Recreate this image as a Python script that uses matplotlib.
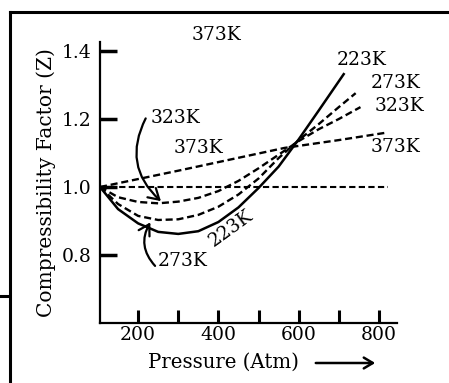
import matplotlib
matplotlib.use("Agg")
import matplotlib.pyplot as plt
from matplotlib.lines import Line2D
from matplotlib.patches import FancyArrowPatch

plt.rcParams['font.family'] = ['DejaVu Serif']

# Data (Pressure in atm, compressibility factor Z)
p_223 = [105, 150, 200, 250, 300, 350, 400, 450, 500, 550, 600, 650, 714]
z_223 = [1.0, 0.935, 0.893, 0.868, 0.862, 0.870, 0.897, 0.940, 0.997, 1.060, 1.140, 1.225, 1.335]

p_273 = [105, 150, 200, 250, 300, 350, 400, 450, 500, 550, 600, 650, 700, 742]
z_273 = [1.0, 0.950, 0.915, 0.903, 0.905, 0.918, 0.942, 0.978, 1.025, 1.085, 1.138, 1.185, 1.235, 1.276]

p_323 = [105, 150, 200, 250, 300, 350, 400, 450, 500, 550, 600, 650, 700, 754]
z_323 = [1.0, 0.970, 0.956, 0.952, 0.957, 0.968, 0.988, 1.018, 1.055, 1.095, 1.135, 1.170, 1.200, 1.235]

p_373 = [105, 300, 565, 700, 814]
z_373 = [1.0, 1.048, 1.115, 1.138, 1.159]

p_ideal = [105, 823]
z_ideal = [1.0, 1.0]

x_ticks = [200, 300, 400, 500, 600, 700, 800]
x_labels = ['200', '', '400', '', '600', '', '800']
y_ticks = [0.8, 1.0, 1.2, 1.4]
y_labels = ['0.8', '1.0', '1.2', '1.4']

fig = plt.figure(figsize=(4.49, 3.83), dpi=100)
ax = fig.add_axes([100/449, 1-323/383, 297/449, 281/383])

dash = (0, (3, 1.6))
lw = 1.7
ax.plot(p_223, z_223, color='black', lw=1.8, solid_capstyle='butt')
ax.plot(p_273, z_273, color='black', lw=lw, linestyle=dash)
ax.plot(p_323, z_323, color='black', lw=lw, linestyle=dash)
ax.plot(p_373, z_373, color='black', lw=lw, linestyle=dash)
ax.plot(p_ideal, z_ideal, color='black', lw=1.5, linestyle=dash)

ax.set_xlim(105, 845)
ax.set_ylim(0.6, 1.4265)
ax.set_xticks(x_ticks)
ax.set_xticklabels(x_labels)
ax.set_yticks(y_ticks)
ax.set_yticklabels(y_labels)
for s in ['top', 'right']:
    ax.spines[s].set_visible(False)
for s in ['left', 'bottom']:
    ax.spines[s].set_linewidth(1.6)
ax.tick_params(axis='x', direction='in', length=9.5, width=2.2, labelsize=13.5, pad=2)
ax.tick_params(axis='y', direction='in', length=12, width=2.5, labelsize=13.5, pad=6)

ax.set_ylabel('Compressibility Factor (Z)', fontsize=14.5, labelpad=4)
fig.text(223/449, 1-362/383, 'Pressure (Atm)', ha='center', va='center', fontsize=14.2)
fig.add_artist(FancyArrowPatch((313/449, 1-363/383), (378/449, 1-363/383),
                               transform=fig.transFigure, arrowstyle='->,head_length=0.5,head_width=0.3',
                               lw=1.8, color='black', mutation_scale=13))

fs = 13.5
texts = [
    (396, 1.447, '373K', 0),
    (757, 1.374, '223K', 0),
    (842, 1.306, '273K', 0),
    (852, 1.238, '323K', 0),
    (842, 1.118, '373K', 0),
    (292, 1.203, '323K', 0),
    (351, 1.115, '373K', 0),
    (312, 0.782, '273K', 0),
    (431, 0.880, '223K', 36),
]
for x, y, t, r in texts:
    ax.text(x, y, t, ha='center', va='center', fontsize=fs, rotation=r,
            clip_on=False, rotation_mode='anchor')

ax.add_patch(FancyArrowPatch((222, 1.209), (262, 0.953), connectionstyle='arc3,rad=0.4',
                             arrowstyle='->,head_length=0.5,head_width=0.3', lw=1.6,
                             color='black', mutation_scale=15))
ax.add_patch(FancyArrowPatch((247, 0.762), (234, 0.903), connectionstyle='arc3,rad=-0.4',
                             arrowstyle='->,head_length=0.5,head_width=0.3', lw=1.6,
                             color='black', mutation_scale=15))

# Frame lines
fig.add_artist(Line2D([10/449, 1.0], [1-12/383, 1-12/383], transform=fig.transFigure,
                      color='black', lw=2.2))
fig.add_artist(Line2D([10/449, 10/449], [1-12/383, 0], transform=fig.transFigure,
                      color='black', lw=2.2))
fig.add_artist(Line2D([0, 8/449], [1-296/383, 1-296/383], transform=fig.transFigure,
                      color='black', lw=2.2))

fig.savefig('out.png', dpi=100)
